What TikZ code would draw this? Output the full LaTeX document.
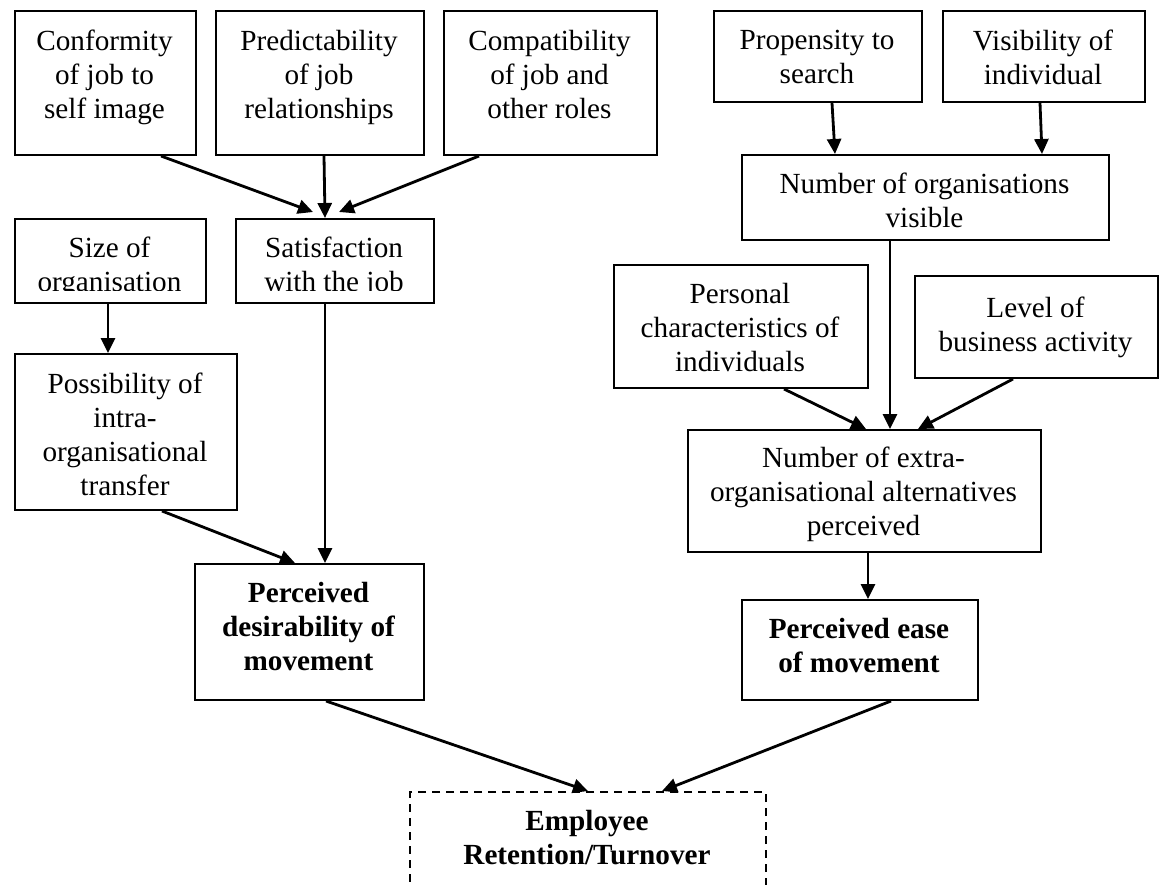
\documentclass[tikz,border=0pt]{standalone}
\usepackage{fontspec}
\setmainfont{Liberation Serif}
\usetikzlibrary{arrows.meta,calc}
\begin{document}
\begin{tikzpicture}[x=0.5pt,y=-0.5pt,
  box/.style 2 args={draw, line width=1pt, rectangle, anchor=north west,
    inner sep=0pt, minimum width=#1*0.5pt, minimum height=#2*0.5pt},
  txt/.style={anchor=north, inner sep=0pt, align=center,
    font=\fontsize{14.6pt}{17pt}\selectfont},
  btxt/.style={txt, font=\fontsize{14.6pt}{17pt}\selectfont\bfseries},
  arr/.style={-{Triangle[length=7.5pt,width=7pt]}, line width=1.4pt}]
\useasboundingbox (0,0) rectangle (1161,884);
\fill[white] (0,0) rectangle (1161,884);
\clip (0,0) rectangle (1161,884);

% boxes
\node[box={181}{144}] (conf) at (14,10) {};
\node[box={208}{144}] (pred) at (215,10) {};
\node[box={213}{144}] (comp) at (443,10) {};
\node[box={208}{91}] (prop) at (713,10) {};
\node[box={202}{91}] (visi) at (942,10) {};
\node[box={367}{85}] (norg) at (741,154) {};
\node[box={191}{84}] (size) at (14,218) {};
\node[box={198}{84}] (sat) at (235,218) {};
\node[box={222}{156}] (poss) at (14,353) {};
\node[box={229}{136}] (des) at (194,563) {};
\node[box={254}{123}] (pers) at (613,264) {};
\node[box={243}{102}] (lvl) at (914,275) {};
\node[box={353}{122}] (extra) at (687,429) {};
\node[box={236}{100}] (ease) at (741,599) {};
\node[box={356}{130}, dash pattern=on 4pt off 3pt] (emp) at (409,791) {};

% texts
\node[txt] (conf-t) at (104.5,30) {Conformity\\of job to\\self image};
\node[txt] (pred-t) at (319,30) {Predictability\\of job\\relationships};
\node[txt] (comp-t) at (549.5,30) {Compatibility\\of job and\\other roles};
\node[txt] (prop-t) at (817,30) {Propensity to\\search};
\node[txt] (visi-t) at (1043,30) {Visibility of\\individual};
\node[txt] (norg-t) at (924.5,173) {Number of organisations\\visible};
\begin{scope}
  \clip (14,218) rectangle (433,290);
  \node[txt] (size-t) at (109.5,237) {Size of\\organisation};
  \node[txt] (sat-t) at (334,237) {Satisfaction\\with the job};
\end{scope}
\node[txt] (poss-t) at (125,373) {Possibility of\\intra-\\organisational\\transfer};
\node[btxt] (des-t) at (308.5,582) {Perceived\\desirability of\\movement};
\node[txt] (pers-t) at (740,283) {Personal\\characteristics of\\individuals};
\node[txt] (lvl-t) at (1035.5,297) {Level of\\business activity};
\node[txt] (extra-t) at (863.5,447) {Number of extra-\\organisational alternatives\\perceived};
\node[btxt] (ease-t) at (859,618) {Perceived ease\\of movement};
\node[btxt] (emp-t) at (587,810) {Employee\\Retention/Turnover};

% connectors
\draw[arr] ($(conf.south)+(55.5,0)$) -- ($(sat.north)+(-22,-6)$);
\draw[arr] ($(pred.south)+(4,0)$) -- ($(sat.north)+(-10,0)$);
\draw[arr] ($(comp.south)+(-71.5,0)$) -- ($(sat.north)+(4,-6)$);
\draw[arr] ($(prop.south)+(14,0)$) -- ($(norg.north)+(-90.5,0)$);
\draw[arr] ($(visi.south)+(-4,0)$) -- ($(norg.north)+(116.5,0)$);
\draw[arr] ($(size.south)+(-2.5,0)$) -- ($(poss.north)+(-18,0)$);
\draw[arr] ($(poss.south)+(36,0)$) -- ($(des.north)+(-14.5,0)$);
\draw[arr] ($(sat.south)+(-10,0)$) -- ($(des.north)+(15.5,0)$);
\draw[arr] ($(norg.south)+(-35.5,0)$) -- ($(extra.north)+(25.5,0)$);
\draw[arr] ($(pers.south)+(43,0)$) -- ($(extra.north)+(1.5,0)$);
\draw[arr] ($(lvl.south)+(-23.5,0)$) -- ($(extra.north)+(53.5,0)$);
\draw[arr] ($(extra.south)+(3.5,0)$) -- ($(ease.north)+(8,0)$);
\draw[arr] ($(des.south)+(16.5,0)$) -- (emp.north);
\draw[arr] ($(ease.south)+(31,0)$) -- ($(emp.north)+(74,0)$);
\end{tikzpicture}
\end{document}
